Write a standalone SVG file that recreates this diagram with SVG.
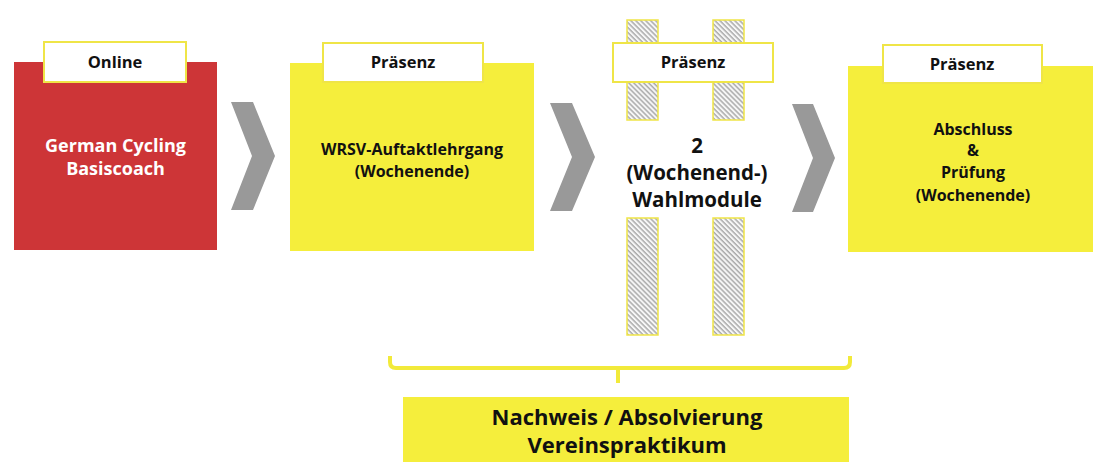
<svg xmlns="http://www.w3.org/2000/svg" width="1108" height="473" viewBox="0 0 1108 473">
<defs>
<style>
.t{font-family:"Open Sans","Liberation Sans",sans-serif;font-weight:700;text-anchor:middle;fill:#111}
.w{fill:#fff}
.lbl{fill:#fff;stroke:#efe547;stroke-width:2}
.yel{fill:#f5ee3c}
.chev{fill:#999999}
.col{fill:url(#hatch);stroke:#efe547;stroke-width:1.5}
.lt{font-size:16.5px}
</style>
<pattern id="hatch" patternUnits="userSpaceOnUse" width="3.5" height="3.5" patternTransform="rotate(-45)">
<rect width="3.5" height="3.5" fill="#f6f6f6"/>
<line x1="1" y1="0" x2="1" y2="3.5" stroke="#a0a0a0" stroke-width="1.3"/>
</pattern>
</defs>
<rect width="1108" height="473" fill="#fff"/>

<g id="connectors">
<polygon class="chev" points="231,102 253,102 275,156 253,210 231,210 252,156"/>
<polygon class="chev" points="550,103 572,103 595,157 572,211 550,211 572,157"/>
<polygon class="chev" points="792,104 813,104 835,158 813,212 792,212 813,158"/>
<path d="M390,356 V362 Q390,368 396,368 H844 Q850,368 850,362 V356 M618,368 V383" fill="none" stroke="#f2ea3a" stroke-width="4"/>
</g>

<g id="node-online">
<rect x="14" y="62" width="203" height="188" fill="#cd3537"/>
<rect class="lbl" x="44" y="42" width="142" height="40"/>
<text class="t lt" x="115" y="68">Online</text>
<text class="t w" x="115.5" y="152" font-size="18">German Cycling</text>
<text class="t w" x="115.5" y="175" font-size="18">Basiscoach</text>
</g>

<g id="node-auftakt">
<rect class="yel" x="290" y="63" width="244" height="188"/>
<rect class="lbl" x="323" y="43" width="160" height="39"/>
<text class="t lt" x="403" y="68">Präsenz</text>
<text class="t" x="412" y="155" font-size="16">WRSV-Auftaktlehrgang</text>
<text class="t" x="412" y="177" font-size="16">(Wochenende)</text>
</g>

<g id="node-wahlmodule">
<rect class="col" x="627" y="20" width="31" height="100"/>
<rect class="col" x="713" y="20" width="31" height="100"/>
<rect class="col" x="627" y="218" width="31" height="117"/>
<rect class="col" x="713" y="218" width="31" height="117"/>
<rect class="lbl" x="613" y="43" width="160" height="39"/>
<text class="t lt" x="693" y="68">Präsenz</text>
<text class="t" x="697" y="153" font-size="20.5">2</text>
<text class="t" x="697" y="180" font-size="20.5">(Wochenend-)</text>
<text class="t" x="697" y="207" font-size="20.5">Wahlmodule</text>
</g>

<g id="node-abschluss">
<rect class="yel" x="848" y="66" width="245" height="186"/>
<rect class="lbl" x="883" y="45" width="159" height="38"/>
<text class="t lt" x="962" y="70">Präsenz</text>
<text class="t" x="973" y="135" font-size="16">Abschluss</text>
<text class="t" x="973" y="156" font-size="16">&amp;</text>
<text class="t" x="973" y="178" font-size="16">Prüfung</text>
<text class="t" x="973" y="201" font-size="16">(Wochenende)</text>
</g>

<g id="node-praktikum">
<rect class="yel" x="403" y="397" width="446" height="65"/>
<text class="t" x="627" y="425" font-size="22">Nachweis / Absolvierung</text>
<text class="t" x="627" y="453" font-size="22">Vereinspraktikum</text>
</g>
</svg>
